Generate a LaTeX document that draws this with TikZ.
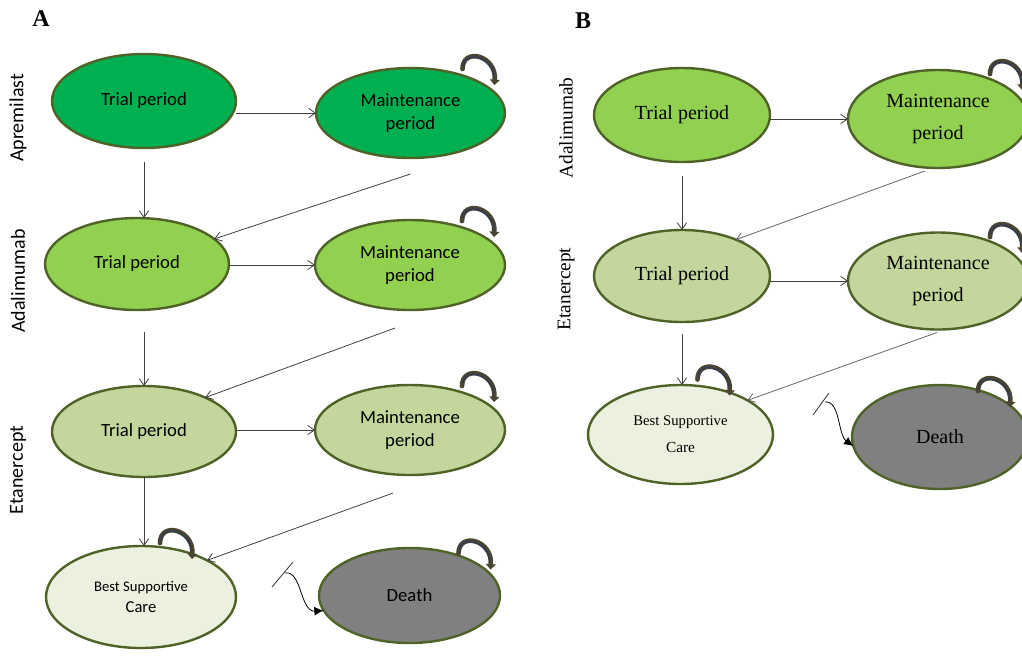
\documentclass[tikz,border=0pt]{standalone}
\usepackage{fontspec}
\setmainfont{Liberation Serif}
\newfontfamily\calfont{Carlito}
\usetikzlibrary{shapes.geometric,arrows.meta,calc}
\definecolor{gA}{HTML}{00B050}
\definecolor{gB}{HTML}{92D050}
\definecolor{gC}{HTML}{C3D69B}
\definecolor{gD}{HTML}{EBF1DE}
\definecolor{gE}{HTML}{808080}
\definecolor{rim}{HTML}{4F6228}
\definecolor{loopc}{HTML}{4A4432}
\definecolor{loopb}{HTML}{23396E}
\newcommand\sloop[3]{%
  \draw[selfloop] ($(#1)+(#2,#3)$) .. controls +(0,-22) and +(2,-30) .. ($(#1)+(#2+32,#3+16)$);
  \draw[selfloopin] ($(#1)+(#2+1,#3)$) .. controls +(0,-20) and +(1,-27) .. ($(#1)+(#2+31,#3+16)$);}
\begin{document}
\begin{tikzpicture}[x=0.75pt,y=-0.75pt,
  st/.style={ellipse, draw=rim, line width=1.8pt, inner sep=0pt, outer sep=0pt, align=center},
  sz/.style 2 args={minimum width=#1*0.75pt, minimum height=#2*0.75pt},
  fa/.style={font=\calfont\fontsize{14}{17.3}\selectfont},
  fb/.style={font=\fontsize{15}{24.7}\selectfont},
  arr/.style={draw=black!75, line width=0.6pt, -{Straight Barb[length=5pt,width=7pt]}},
  selfloop/.style={draw=loopc, line width=3.5pt, line cap=round, -{Triangle[length=4pt,width=7.5pt]}},
  selfloopin/.style={draw=loopb, line width=0.6pt, shorten <=2pt, shorten >=6pt},
  deatharr/.style={draw=black, line width=0.6pt, -{Latex[length=7pt,width=6.5pt]}},
  tick/.style={draw=black!80, line width=0.6pt},
  lbl/.style={rotate=90, inner sep=0pt},
  panel/.style={font=\bfseries\fontsize{18}{20}\selectfont, inner sep=0pt}]
\useasboundingbox (0,0) rectangle (1022,658);
\clip (0,0) rectangle (1022,658);

% Panel letters
\node[panel] (pA) at (41,19) {A};
\node[panel] (pB) at (583,21) {B};

% ---------- Panel A ----------
\node[lbl, font=\calfont\fontsize{15}{17}\selectfont] (lA1) at (18,118) {Apremilast};
\node[lbl, font=\calfont\fontsize{15}{17}\selectfont] (lA2) at (18,281) {Adalimumab};
\node[lbl, font=\calfont\fontsize{15}{17}\selectfont] (lA3) at (18,470) {Etanercept};

\node[st, sz={184}{94}, fill=gA, fa] (t1) at (144,101) {Trial period};
\node[st, sz={189}{90}, fill=gA, fa] (m1) at (410.5,113) {Maintenance\\period};
\node[st, sz={184}{92}, fill=gB, fa] (t2) at (137,264) {Trial period};
\node[st, sz={190}{90}, fill=gB, fa] (m2) at (410,265) {Maintenance\\period};
\node[st, sz={184}{91}, fill=gC, fa] (t3) at (144,431.5) {Trial period};
\node[st, sz={190}{90}, fill=gC, fa] (m3) at (410,430) {Maintenance\\period};
\node[st, sz={190}{102}, fill=gD, font=\calfont\fontsize{11}{17.3}\selectfont] (bscA) at (141,597)
  {Best Supportive\\[-2pt]{\fontsize{12.5}{15}\selectfont Care}};
\node[st, sz={181}{95}, fill=gE, fa] (dA) at (409.5,595.5) {Death};

\draw[arr] (t1.east |- m1.west) -- (m1.west);
\draw[arr] ($(t1.south)+(0,14)$) -- (t1.south |- t2.north);
\draw[arr] ($(m1.south)+(0,16)$) -- (t2.18);
\draw[arr] (t2.east |- m2.west) -- (m2.west);
\draw[arr] ($(t3.north)+(0,-54)$) -- (t3.north);
\draw[arr] ($(m2.south)+(-15,18)$) -- (t3.29);
\draw[arr] (t3.east |- m3.west) -- (m3.west);
\draw[arr] (t3.south) -- (t3.south |- bscA.north);
\draw[arr] ($(m3.south)+(-17,18)$) -- (bscA.29);

\sloop{m1}{52}{-44}
\sloop{m2}{52}{-44}
\sloop{m3}{52}{-44}
\sloop{bscA}{19}{-54}
\sloop{dA}{49}{-42}

\coordinate (tkA) at (285,573);
\draw[tick] ($(tkA)+(-13,14)$) -- ($(tkA)+(8,-11)$);
\draw[deatharr] (tkA) .. controls (302,570) and (300,612) .. (dA.190);

% ---------- Panel B ----------
\node[lbl, font=\fontsize{14.5}{17}\selectfont] (lB1) at (566,128) {Adalimumab};
\node[lbl, font=\fontsize{14.5}{17}\selectfont] (lB2) at (566,289) {Etanercept};

\node[st, sz={176}{94}, fill=gB, fb] (bt1) at (682,115) {Trial period};
\node[st, sz={180}{98}, fill=gB, fb] (bm1) at (938,119) {Maintenance\\period};
\node[st, sz={176}{92}, fill=gC, fb] (bt2) at (682,276) {Trial period};
\node[st, sz={180}{97}, fill=gC, fb] (bm2) at (938,281) {Maintenance\\period};
\node[st, sz={185}{99}, fill=gD, font=\fontsize{11}{20}\selectfont] (bbsc) at (680.5,434.5)
  {Best Supportive\\{\fontsize{11.5}{20}\selectfont Care}};
\node[st, sz={176}{104}, fill=gE, fb] (dB) at (940,437) {Death};

\draw[arr] (bt1.east |- bm1.west) -- (bm1.west);
\draw[arr] ($(bt1.south)+(0,14)$) -- (bt2.north);
\draw[arr, draw=black!60] ($(bm1.south)+(-13,3)$) -- (bt2.34);
\draw[arr] (bt2.east |- bm2.west) -- (bm2.west);
\draw[arr] ($(bt2.south)+(0,12)$) -- (bt2.south |- bbsc.north);
\draw[arr, draw=black!60] ($(bm2.south)+(-1,3)$) -- (bbsc.27);

\sloop{bm1}{52}{-45}
\sloop{bm2}{52}{-44}
\sloop{bbsc}{17}{-55}
\sloop{dB}{38}{-46}

\coordinate (tkB) at (825,402);
\draw[tick] ($(tkB)+(-12,13)$) -- ($(tkB)+(4,-9)$);
\draw[deatharr] (tkB) .. controls (840,400) and (838,435) .. (dB.186);
\end{tikzpicture}
\end{document}
